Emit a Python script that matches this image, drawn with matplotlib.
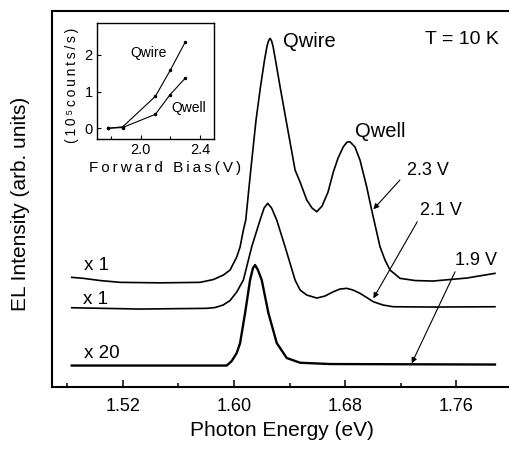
import numpy as np
import matplotlib
matplotlib.use('Agg')
import matplotlib.pyplot as plt

plt.rcParams['font.family'] = ['Liberation Sans', 'DejaVu Sans']

# EL spectra (energy in eV, intensity in arb. units)
e_23 = [1.4833, 1.4917, 1.5037, 1.5181, 1.5468, 1.5756, 1.5852, 1.5924, 1.5972, 1.6020,
        1.6044, 1.6068, 1.6085, 1.6121, 1.6159, 1.6191, 1.6220, 1.6238, 1.6250, 1.6260,
        1.6270, 1.6281, 1.6299, 1.6332, 1.6375, 1.6440, 1.6476, 1.6524, 1.6562, 1.6596,
        1.6634, 1.6677, 1.6715, 1.6749, 1.6787, 1.6814, 1.6835, 1.6871, 1.6907, 1.6955,
        1.6991, 1.7051, 1.7087, 1.7123, 1.7195, 1.7303, 1.7432, 1.7675, 1.7878]
i_23 = [109.7, 108.7, 106.5, 104.7, 104.2, 104.7, 107.5, 112, 117, 130,
        140, 157, 167, 217, 267, 300.3, 327, 341, 346.5, 348.7,
        346.5, 341, 327, 300.3, 267, 217, 205, 187, 179, 175.3,
        181, 195, 215, 229, 240.3, 245, 245.3, 240, 227, 200.3,
        177, 140.3, 127, 117, 108.7, 106.5, 106, 109, 113.7]

e_21 = [1.4833, 1.5324, 1.5804, 1.5864, 1.5922, 1.5972, 1.6020, 1.6068, 1.6128, 1.6188,
        1.6217, 1.6243, 1.6271, 1.6308, 1.6368, 1.6440, 1.6476, 1.6524, 1.6596, 1.6655,
        1.6715, 1.6763, 1.6812, 1.6857, 1.6907, 1.6950, 1.7003, 1.7073, 1.7147, 1.7432,
        1.7878]
i_21 = [79.3, 78, 78.7, 79.5, 82, 86.5, 95, 107, 140.3, 167,
        179, 183.7, 179, 167, 140.3, 107, 97, 92, 89, 91,
        95.3, 98, 98.7, 97, 93.7, 90, 85.3, 82, 80.3, 80,
        80.3]

e_19 = [1.4833, 1.5948, 1.5984, 1.6020, 1.6044, 1.6080, 1.6116, 1.6137, 1.6152, 1.6173,
        1.6200, 1.6248, 1.6308, 1.6380, 1.6476, 1.6691, 1.7878]
i_19 = [21.5, 21.5, 26, 34, 43.7, 73.7, 107, 119, 122, 117,
        107, 74, 44, 29, 24.3, 23, 22.5]

# inset: integrated EL vs forward bias
bias = [1.78, 1.88, 2.10, 2.20, 2.30]
qwire = [0.0, 0.04, 0.87, 1.58, 2.34]
qwell = [0.0, 0.02, 0.38, 0.92, 1.36]

xticks = [1.52, 1.60, 1.68, 1.76]

fig = plt.figure(figsize=(5.09, 4.49), dpi=100)
ax = fig.add_axes([0.1016, 0.138, 0.8984, 0.838])

ax.plot(e_23, i_23, color='k', lw=1.2)
ax.plot(e_21, i_21, color='k', lw=1.2)
ax.plot(e_19, i_19, color='k', lw=1.7)

ax.set_xlim(1.4689, 1.7979)
ax.set_ylim(0, 376.3)
ax.set_xticks(xticks)
ax.set_xticklabels(['%.2f' % v for v in xticks])
ax.set_xticks([1.48, 1.56, 1.64, 1.72], minor=True)
ax.set_yticks([])
ax.tick_params(axis='x', which='major', direction='in', length=5, width=1.1, labelsize=13, pad=8)
ax.tick_params(axis='x', which='minor', direction='in', length=3, width=1.1)
for s in ['left', 'bottom', 'top']:
    ax.spines[s].set_linewidth(1.5)
ax.spines['right'].set_visible(False)

fs = 14.5
ax.text(1.6353, 345.3, 'Qwire', fontsize=fs, ha='left', va='center')
ax.text(1.6871, 255.3, 'Qwell', fontsize=fs, ha='left', va='center')
ax.text(1.7637, 347.5, 'T = 10 K', fontsize=14, ha='center', va='center')
ax.text(1.7396, 217, '2.3 V', fontsize=13, ha='center', va='center')
ax.text(1.7486, 176.3, '2.1 V', fontsize=13, ha='center', va='center')
ax.text(1.7745, 127, '1.9 V', fontsize=13, ha='center', va='center')
ax.text(1.5012, 122, 'x 1', fontsize=13.5, ha='center', va='center')
ax.text(1.5001, 88, 'x 1', fontsize=13.5, ha='center', va='center')
ax.text(1.5051, 33.7, 'x 20', fontsize=13.5, ha='center', va='center')

arr = dict(arrowstyle='-|>', lw=0.8, color='k', mutation_scale=8, shrinkA=0, shrinkB=0)
ax.annotate('', xy=(1.7003, 177.7), xytext=(1.7194, 207), arrowprops=arr)
ax.annotate('', xy=(1.7003, 88.7), xytext=(1.7319, 165.3), arrowprops=arr)
ax.annotate('', xy=(1.7279, 23.7), xytext=(1.7591, 115.3), arrowprops=arr)

fig.text(0.0393, 0.5457, 'EL Intensity (arb. units)', fontsize=15, rotation=90,
         ha='center', va='center')
fig.text(0.554, 0.0423, 'Photon Energy (eV)', fontsize=15, ha='center', va='center')

# inset
ins = fig.add_axes([0.19, 0.6898, 0.2305, 0.2597])
ins.plot(bias, qwire, color='k', lw=0.8, marker='o', ms=1.5)
ins.plot(bias, qwell, color='k', lw=0.8, marker='o', ms=1.5)
ins.set_xlim(1.705, 2.495)
ins.set_ylim(-0.30, 2.877)
ins.set_xticks([2.0, 2.4])
ins.set_xticks([1.8, 2.2], minor=True)
ins.set_yticks([0, 1, 2])
ins.tick_params(which='major', direction='in', length=3, width=0.8, labelsize=10.5, pad=3)
ins.tick_params(which='minor', direction='in', length=2, width=0.8)
for s in ins.spines.values():
    s.set_linewidth(1.0)
ins.text(2.053, 2.04, 'Qwire', fontsize=10, ha='center', va='center')
ins.text(2.327, 0.545, 'Qwell', fontsize=10, ha='center', va='center')

fig.text(0.3242, 0.6252, '\u2009'.join('Forward Bias(V)'), fontsize=11,
         ha='center', va='center')
fig.text(0.1409, 0.809, '\u2009'.join('(10\u2075counts/s)'), fontsize=10, rotation=90,
         ha='center', va='center')

fig.savefig('out.png', dpi=100)
